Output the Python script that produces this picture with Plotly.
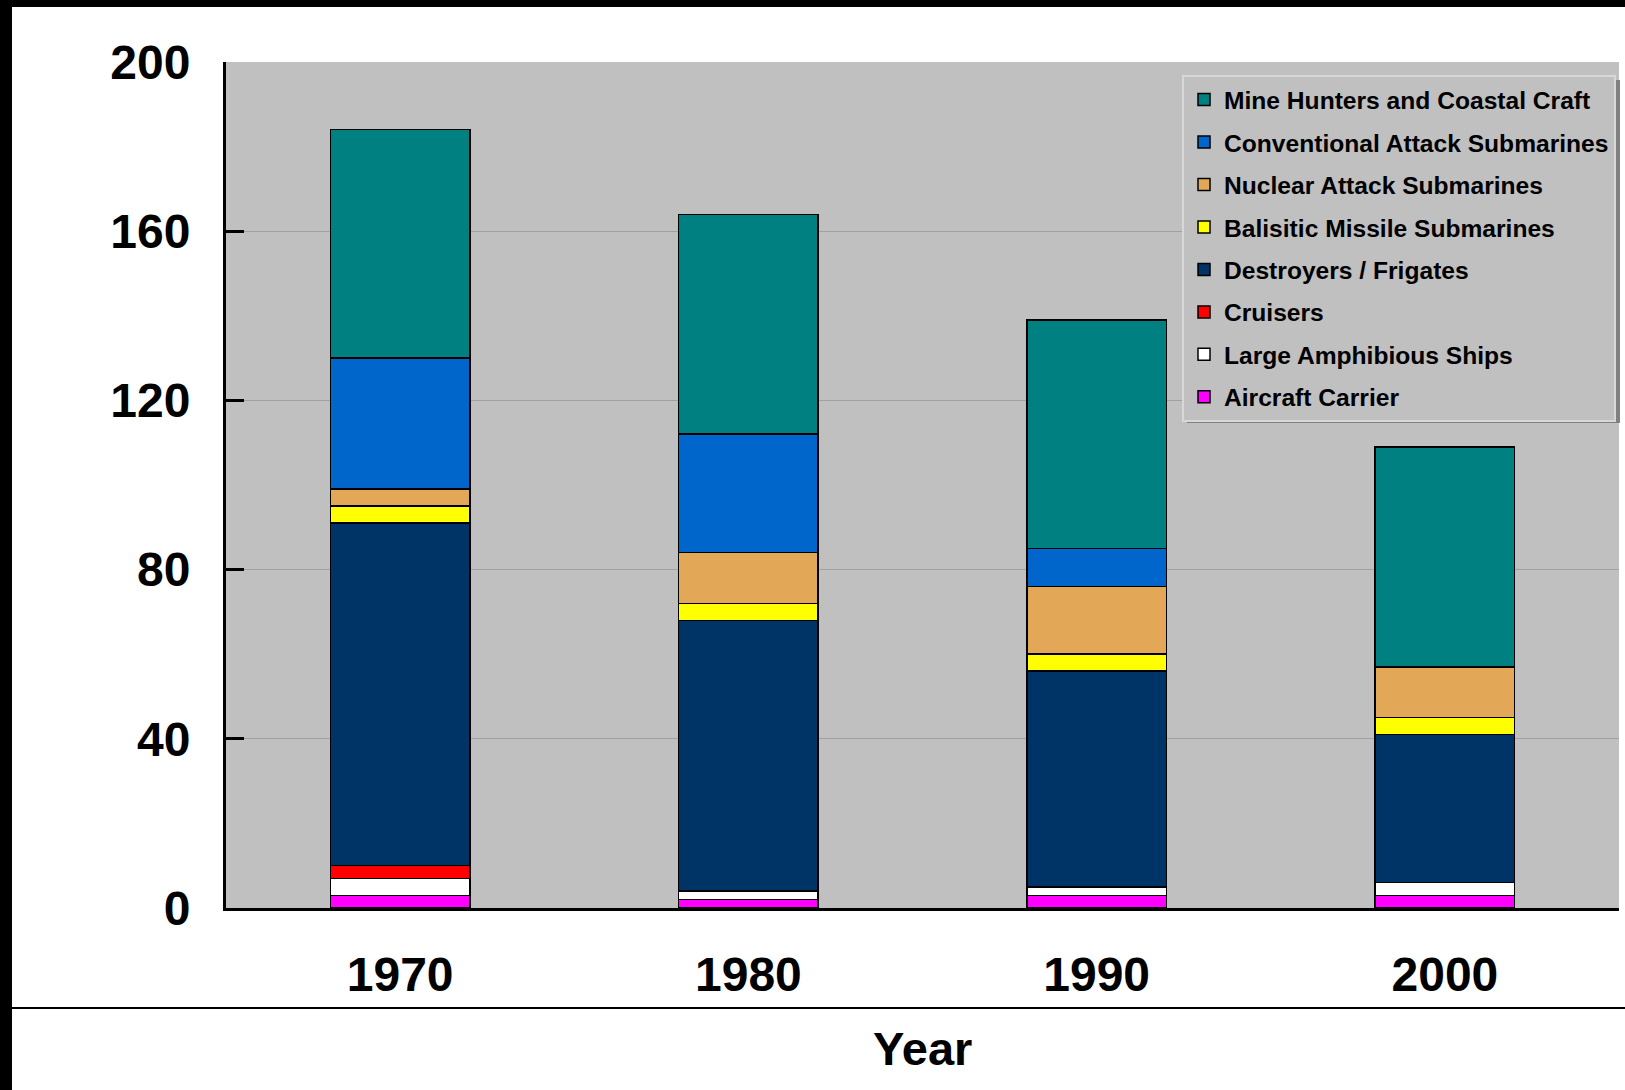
import plotly.graph_objects as go

years = ["1970", "1980", "1990", "2000"]

aircraft_carrier = [3, 2, 3, 3]
large_amphibious = [4, 2, 2, 3]
cruisers = [3, 0, 0, 0]
destroyers_frigates = [81, 64, 51, 35]
ballistic_missile_subs = [4, 4, 4, 4]
nuclear_attack_subs = [4, 12, 16, 12]
conventional_attack_subs = [31, 28, 9, 0]
mine_hunters_coastal = [54, 52, 54, 52]

y_ticks = [0, 40, 80, 120, 160, 200]

series = [
    ("Aircraft Carrier", aircraft_carrier, "#FF00FF"),
    ("Large Amphibious Ships", large_amphibious, "#FFFFFF"),
    ("Cruisers", cruisers, "#FF0000"),
    ("Destroyers / Frigates", destroyers_frigates, "#003366"),
    ("Balisitic Missile Submarines", ballistic_missile_subs, "#FFFF00"),
    ("Nuclear Attack Submarines", nuclear_attack_subs, "#E2A857"),
    ("Conventional Attack Submarines", conventional_attack_subs, "#0066CC"),
    ("Mine Hunters and Coastal Craft", mine_hunters_coastal, "#008080"),
]

FONT = "Liberation Sans, Arial, sans-serif"

fig = go.Figure()
n = len(series)
for i, (name, vals, col) in enumerate(series):
    fig.add_trace(go.Bar(
        x=years, y=vals, name=name, legendgroup=name,
        legendrank=100 + (n - i) * 10,
        marker=dict(color=col, line=dict(color="#000000", width=1.5)),
    ))

W, H = 1625, 1090
L, R, T, B = 226, 6, 62, 182
pw, ph = W - L - R, H - T - B


def xp(px):
    return (px - L) / pw


def yp(py):
    return (H - B - py) / ph


shapes = [
    # left black strip
    dict(type="rect", xref="paper", yref="paper", x0=-0.3, x1=xp(12),
         y0=-0.4, y1=1.2, fillcolor="#000000", line=dict(width=0), layer="above"),
    # top black strip
    dict(type="rect", xref="paper", yref="paper", x0=-0.3, x1=1.2,
         y0=yp(7), y1=1.2, fillcolor="#000000", line=dict(width=0), layer="above"),
    # horizontal separator line
    dict(type="line", xref="paper", yref="paper", x0=xp(12), x1=1.2,
         y0=yp(1008), y1=yp(1008), line=dict(color="#000000", width=2), layer="above"),
    # legend shadow
    dict(type="rect", xref="paper", yref="paper", x0=xp(1187), x1=xp(1620),
         y0=yp(423), y1=yp(80), fillcolor="#808080", line=dict(width=0), layer="above"),
]

fig.update_layout(
    width=W, height=H,
    margin=dict(l=L, r=R, t=T, b=B, pad=0),
    barmode="stack",
    bargap=0.6,
    paper_bgcolor="#FFFFFF",
    plot_bgcolor="#C0C0C0",
    font=dict(family=FONT, color="#000000", weight="bold"),
    showlegend=True,
    legend=dict(
        x=xp(1182), y=yp(75), xanchor="left", yanchor="top",
        traceorder="grouped", tracegroupgap=7.5,
        bgcolor="#C0C0C0", bordercolor="#D8D8D8", borderwidth=2,
        font=dict(family=FONT, size=24.6, color="#000000", weight="bold"),
    ),
    shapes=shapes,
    annotations=[dict(
        text="Year", xref="paper", yref="paper", x=0.5, y=yp(1048),
        xanchor="center", yanchor="middle", showarrow=False,
        font=dict(family=FONT, size=47, color="#000000", weight="bold"),
    )],
)

fig.update_yaxes(
    range=[0, 200], tickvals=y_ticks, ticktext=[str(v) for v in y_ticks],
    showgrid=True, gridcolor="#A0A0A0", gridwidth=1,
    zeroline=False,
    showline=True, linecolor="#000000", linewidth=3,
    ticks="inside", ticklen=18, tickwidth=3, tickcolor="#000000",
    ticklabelstandoff=23,
    tickfont=dict(family=FONT, size=48, color="#000000", weight="bold"),
)
fig.update_xaxes(
    showgrid=False, zeroline=False,
    showline=True, linecolor="#000000", linewidth=3,
    ticks="", ticklabelstandoff=22,
    tickfont=dict(family=FONT, size=48, color="#000000", weight="bold"),
)

fig.write_html("out.html", config={"displayModeBar": False},
               post_script="document.body.style.margin='0';document.body.style.overflow='hidden';")
